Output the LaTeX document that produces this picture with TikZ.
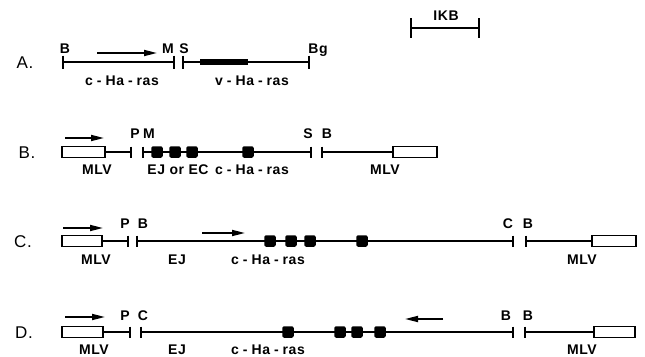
\documentclass[tikz,border=0pt]{standalone}
\usepackage{fontspec}
\setmainfont{Liberation Sans}
\newfontfamily\figfont{Liberation Sans}[LetterSpace=4]
\usetikzlibrary{arrows.meta}
\newcommand{\hras}[1]{#1\hspace{4pt}-\hspace{4pt}Ha\hspace{4pt}-\hspace{4pt}ras}
\begin{document}
\begin{tikzpicture}[x=1pt,y=-1pt,
  dna/.style={line width=1.4pt},
  cutmark/.style={line width=1.8pt},
  ltrbox/.style={draw, line width=1.4pt, fill=white, inner sep=0pt, minimum height=11pt},
  exon/.style={fill=black, rounded corners=2pt, inner sep=0pt, minimum width=11.5pt, minimum height=11.5pt},
  garrow/.style={line width=1.7pt, -{Triangle[length=13pt,width=6pt]}},
  lbl/.style={anchor=base, inner sep=0pt, font=\figfont\bfseries\fontsize{14}{14}\selectfont},
  rowlbl/.style={anchor=base, inner sep=0pt, font=\figfont\fontsize{17}{17}\selectfont}]
\useasboundingbox (0,0) rectangle (645,356);

% ---------- scale bar
\coordinate (s1) at (411,28);
\coordinate (s2) at (479,28);
\draw[cutmark] ([yshift=10pt]s1) -- ([yshift=-10pt]s1);
\draw[cutmark] ([yshift=10pt]s2) -- ([yshift=-10pt]s2);
\draw[dna] (s1) -- (s2);
\node[lbl] (kb) at (446,20) {IKB};

% ---------- row A
\node[rowlbl] (la) at (25,68) {A.};
\coordinate (aB) at (63,62);
\coordinate (aM) at (174,62);
\coordinate (aS) at (183,62);
\coordinate (aBg) at (309,62);
\foreach \c in {aB,aM,aS,aBg}{\draw[cutmark] ([yshift=6.5pt]\c) -- ([yshift=-6.5pt]\c);}
\draw[dna] (aB) -- (aM);
\draw[dna] (aS) -- (aBg);
\node[fill=black, inner sep=0pt, minimum width=48pt, minimum height=6pt] (vras) at (224,62) {};
\coordinate (aa1) at (97,53);
\coordinate (aa2) at (157,53);
\draw[garrow] (aa1) -- (aa2);
\node[lbl] (taB) at (65,53) {B};
\node[lbl] (taM) at (168,53) {M};
\node[lbl] (taS) at (184,53) {S};
\node[lbl] (taBg) at (318,53) {Bg};
\node[lbl] (taC) at (122,85) {\hras{c}};
\node[lbl] (taV) at (252,85) {\hras{v}};

% ---------- row B
\node[rowlbl] (lb) at (27,158) {B.};
\node[ltrbox, minimum width=43pt] (bL) at (83.5,152) {};
\node[ltrbox, minimum width=44pt] (bR) at (415,152) {};
\coordinate (bP) at (131,152);
\coordinate (bM) at (143,152);
\coordinate (bS) at (311,152);
\coordinate (bB) at (322,152);
\foreach \c in {bP,bM,bS,bB}{\draw[cutmark] ([yshift=5.5pt]\c) -- ([yshift=-5.5pt]\c);}
\draw[dna] (bL.east) -- (bP);
\draw[dna] (bM) -- (bS);
\draw[dna] (bB) -- (bR.west);
\node[exon] (be1) at (157,152) {};
\node[exon] (be2) at (175,152) {};
\node[exon] (be3) at (192,152) {};
\node[exon] (be4) at (248,152) {};
\coordinate (ba1) at (65,138);
\coordinate (ba2) at (104,138);
\draw[garrow] (ba1) -- (ba2);
\node[lbl] (tbP) at (135,138) {P};
\node[lbl] (tbM) at (149,138) {M};
\node[lbl] (tbS) at (308,138) {S};
\node[lbl] (tbB) at (327,138) {B};
\node[lbl] (tbL) at (97,174) {MLV};
\node[lbl] (tbE) at (178,174) {EJ or EC};
\node[lbl] (tbC) at (252,174) {\hras{c}};
\node[lbl] (tbR) at (385,174) {MLV};

% ---------- row C
\node[rowlbl] (lc) at (23,247) {C.};
\node[ltrbox, minimum width=40pt] (cL) at (82,241) {};
\node[ltrbox, minimum width=44pt] (cR) at (614,241) {};
\coordinate (cP) at (128,241);
\coordinate (cB1) at (137,241);
\coordinate (cC) at (513,241);
\coordinate (cB2) at (526,241);
\foreach \c in {cP,cB1,cC,cB2}{\draw[cutmark] ([yshift=5.5pt]\c) -- ([yshift=-5.5pt]\c);}
\draw[dna] (cL.east) -- (cP);
\draw[dna] (cB1) -- (cC);
\draw[dna] (cB2) -- (cR.west);
\node[exon] (ce1) at (270,241) {};
\node[exon] (ce2) at (291,241) {};
\node[exon] (ce3) at (310,241) {};
\node[exon] (ce4) at (362,241) {};
\coordinate (ca1) at (63,228);
\coordinate (ca2) at (103,228);
\draw[garrow] (ca1) -- (ca2);
\coordinate (ca3) at (202,233);
\coordinate (ca4) at (245,233);
\draw[garrow] (ca3) -- (ca4);
\node[lbl] (tcP) at (125,228) {P};
\node[lbl] (tcB1) at (143,228) {B};
\node[lbl] (tcC) at (508,228) {C};
\node[lbl] (tcB2) at (528,228) {B};
\node[lbl] (tcL) at (96,264) {MLV};
\node[lbl] (tcE) at (177,264) {EJ};
\node[lbl] (tcH) at (268,264) {\hras{c}};
\node[lbl] (tcR) at (582,264) {MLV};

% ---------- row D
\node[rowlbl] (ld) at (24,338) {D.};
\node[ltrbox, minimum width=41pt] (dL) at (82.5,332) {};
\node[ltrbox, minimum width=41pt] (dR) at (614.5,332) {};
\coordinate (dP) at (130,332);
\coordinate (dC) at (141,332);
\coordinate (dB1) at (513,332);
\coordinate (dB2) at (525,332);
\foreach \c in {dP,dC,dB1,dB2}{\draw[cutmark] ([yshift=5.5pt]\c) -- ([yshift=-5.5pt]\c);}
\draw[dna] (dL.east) -- (dP);
\draw[dna] (dC) -- (dB1);
\draw[dna] (dB2) -- (dR.west);
\node[exon] (de1) at (288,332) {};
\node[exon] (de2) at (340,332) {};
\node[exon] (de3) at (357,332) {};
\node[exon] (de4) at (380,332) {};
\coordinate (da1) at (65,317);
\coordinate (da2) at (105,317);
\draw[garrow] (da1) -- (da2);
\coordinate (da3) at (443,319);
\coordinate (da4) at (405,319);
\draw[garrow] (da3) -- (da4);
\node[lbl] (tdP) at (125,320) {P};
\node[lbl] (tdC) at (143,320) {C};
\node[lbl] (tdB1) at (506,320) {B};
\node[lbl] (tdB2) at (528,320) {B};
\node[lbl] (tdL) at (94,354) {MLV};
\node[lbl] (tdE) at (177,354) {EJ};
\node[lbl] (tdH) at (268,354) {\hras{c}};
\node[lbl] (tdR) at (582,354) {MLV};
\end{tikzpicture}
\end{document}
